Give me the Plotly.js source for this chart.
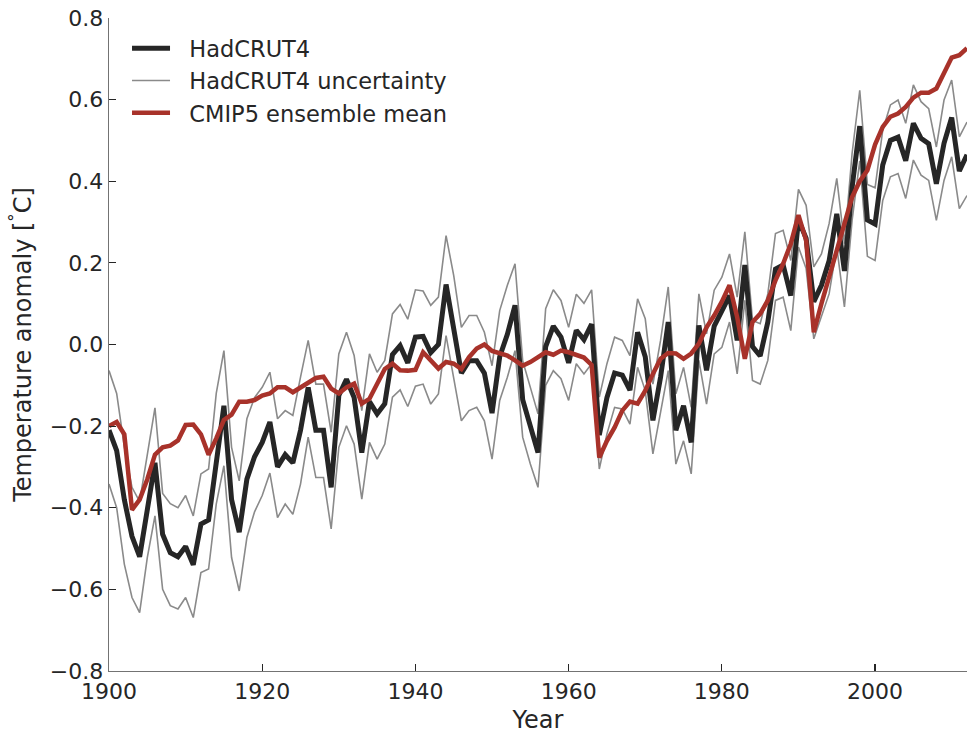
<!DOCTYPE html>
<html>
<head>
<meta charset="utf-8">
<script src="https://cdn.plot.ly/plotly-3.0.1.min.js"></script>
<style>
  html, body { margin: 0; padding: 0; background: #ffffff; }
  #chart { width: 967px; height: 735px; }
</style>
</head>
<body>
<div id="chart"></div>
<script>
// Annual global mean temperature anomalies, 1900–2012 (°C)
const firstYear = 1900;

const hadcrut4 = [
  -0.21, -0.26, -0.38, -0.47, -0.52, -0.40, -0.29, -0.465, -0.51, -0.52,
  -0.495, -0.54, -0.44, -0.43, -0.285, -0.15, -0.38, -0.46, -0.33, -0.275,
  -0.24, -0.19, -0.30, -0.27, -0.29, -0.21, -0.105, -0.21, -0.21, -0.35,
  -0.125, -0.085, -0.13, -0.265, -0.14, -0.17, -0.145, -0.025, -0.003, -0.045,
  0.018, 0.02, -0.02, 0.0, 0.147, 0.035, -0.07, -0.04, -0.04, -0.07,
  -0.168, -0.03, 0.025, 0.096, -0.135, -0.20, -0.265, -0.005, 0.045, 0.018,
  -0.045, 0.035, 0.012, 0.05, -0.222, -0.13, -0.07, -0.075, -0.112, 0.03,
  -0.03, -0.186, -0.08, 0.055, -0.21, -0.15, -0.24, 0.047, -0.063, 0.045,
  0.085, 0.12, 0.01, 0.195, -0.005, -0.028, 0.055, 0.185, 0.195, 0.12,
  0.305, 0.26, 0.105, 0.145, 0.205, 0.32, 0.18, 0.385, 0.535, 0.305,
  0.295, 0.44, 0.50, 0.508, 0.45, 0.542, 0.505, 0.492, 0.394, 0.493,
  0.556, 0.425, 0.465
];

const hadcrut4Upper = [
  -0.064, -0.12, -0.25, -0.35, -0.385, -0.27, -0.155, -0.365, -0.39, -0.40,
  -0.37, -0.42, -0.317, -0.305, -0.12, -0.015, -0.252, -0.334, -0.182, -0.13,
  -0.105, -0.068, -0.182, -0.162, -0.174, -0.08, 0.01, -0.097, -0.097, -0.215,
  -0.023, 0.03, -0.027, -0.162, -0.023, -0.068, -0.039, 0.075, 0.098, 0.062,
  0.134, 0.131, 0.096, 0.116, 0.267, 0.169, 0.042, 0.071, 0.071, 0.03,
  -0.052, 0.083, 0.145, 0.198, -0.04, -0.105, -0.17, 0.088, 0.134, 0.108,
  0.042, 0.123, 0.101, 0.134, -0.129, -0.047, 0.018, 0.01, -0.027, 0.112,
  0.063, -0.097, 0.01, 0.141, -0.121, -0.056, -0.154, 0.124, 0.026, 0.133,
  0.165, 0.222, 0.116, 0.276, 0.059, 0.051, 0.124, 0.272, 0.28, 0.206,
  0.38, 0.341, 0.19, 0.222, 0.296, 0.407, 0.247, 0.468, 0.623, 0.392,
  0.384, 0.525, 0.587, 0.599, 0.542, 0.636, 0.595, 0.578, 0.484, 0.599,
  0.648, 0.509, 0.545
];

const hadcrut4Lower = [
  -0.342, -0.40, -0.538, -0.62, -0.657, -0.522, -0.42, -0.60, -0.64, -0.648,
  -0.62, -0.669, -0.559, -0.55, -0.391, -0.297, -0.522, -0.604, -0.473, -0.41,
  -0.37, -0.315, -0.424, -0.391, -0.416, -0.342, -0.227, -0.326, -0.326, -0.452,
  -0.252, -0.199, -0.244, -0.379, -0.24, -0.281, -0.244, -0.129, -0.111, -0.152,
  -0.102, -0.097, -0.146, -0.121, 0.022, -0.08, -0.187, -0.162, -0.154, -0.187,
  -0.281, -0.137, -0.08, -0.015, -0.227, -0.293, -0.35, -0.10, -0.064, -0.084,
  -0.137, -0.047, -0.072, -0.047, -0.305, -0.219, -0.154, -0.158, -0.195, -0.056,
  -0.113, -0.268, -0.17, -0.064, -0.293, -0.236, -0.317, -0.039, -0.146, -0.023,
  -0.007, 0.055, -0.072, 0.108, -0.088, -0.097, -0.039, 0.108, 0.116, 0.034,
  0.239, 0.186, 0.014, 0.067, 0.124, 0.239, 0.092, 0.304, 0.45, 0.216,
  0.206, 0.353, 0.411, 0.419, 0.358, 0.452, 0.415, 0.402, 0.304, 0.402,
  0.46, 0.333, 0.365
];

const cmip5Mean = [
  -0.20, -0.19, -0.22, -0.405, -0.38, -0.33, -0.27, -0.252, -0.248, -0.235,
  -0.197, -0.196, -0.22, -0.27, -0.23, -0.185, -0.172, -0.14, -0.14, -0.136,
  -0.125, -0.12, -0.105, -0.105, -0.117, -0.105, -0.092, -0.082, -0.079, -0.108,
  -0.12, -0.105, -0.096, -0.145, -0.133, -0.096, -0.06, -0.047, -0.063, -0.064,
  -0.062, -0.019, -0.039, -0.059, -0.043, -0.047, -0.06, -0.031, -0.01, 0.0,
  -0.016, -0.021, -0.027, -0.039, -0.052, -0.043, -0.031, -0.019, -0.025, -0.015,
  -0.019, -0.025, -0.032, -0.05, -0.277, -0.236, -0.203, -0.162, -0.14, -0.145,
  -0.113, -0.072, -0.035, -0.021, -0.022, -0.035, -0.022, 0.002, 0.042, 0.071,
  0.105, 0.145, 0.067, -0.035, 0.055, 0.075, 0.108, 0.157, 0.198, 0.247,
  0.317, 0.255, 0.03, 0.10, 0.165, 0.239, 0.304, 0.361, 0.40, 0.427,
  0.49, 0.533, 0.558, 0.566, 0.582, 0.605, 0.617, 0.617, 0.627, 0.664,
  0.703, 0.709, 0.726
];

const years = hadcrut4.map((_, i) => firstYear + i);

const yTicks = [-0.8, -0.6, -0.4, -0.2, 0.0, 0.2, 0.4, 0.6, 0.8];
const yTickText = yTicks.map(v => v.toFixed(1).replace('-', '\u2212'));
const xTicks = [1900, 1920, 1940, 1960, 1980, 2000];

const seriesNames = ['HadCRUT4', 'HadCRUT4 uncertainty', 'CMIP5 ensemble mean'];

const textColor = '#262626';
const spineColor = '#737373';
const font = 'DejaVu Sans, Liberation Sans, sans-serif';

// a little breathing room between each legend swatch and its label
const gap = '\u00a0\u00a0';

const traces = [
  {
    x: years, y: hadcrut4Lower, type: 'scatter', mode: 'lines',
    name: gap + seriesNames[1], showlegend: false, legendgroup: 'unc',
    line: { color: '#8a8a8a', width: 1.6 }, hoverinfo: 'skip'
  },
  {
    x: years, y: hadcrut4Upper, type: 'scatter', mode: 'lines',
    name: gap + seriesNames[1], legendgroup: 'unc', legendrank: 2,
    line: { color: '#8a8a8a', width: 1.6 }
  },
  {
    x: years, y: hadcrut4, type: 'scatter', mode: 'lines',
    name: gap + seriesNames[0], legendrank: 1,
    line: { color: '#262626', width: 5 }
  },
  {
    x: years, y: cmip5Mean, type: 'scatter', mode: 'lines',
    name: gap + seriesNames[2], legendrank: 3,
    line: { color: '#a8322a', width: 4.5 }
  }
];

const layout = {
  width: 967,
  height: 735,
  paper_bgcolor: '#ffffff',
  plot_bgcolor: '#ffffff',
  margin: { l: 109, r: 0, t: 18, b: 64, pad: 0 },
  font: { family: font, size: 22, color: textColor },
  showlegend: true,
  legend: {
    x: 0.021, y: 0.986, xanchor: 'left', yanchor: 'top',
    bgcolor: 'rgba(0,0,0,0)', borderwidth: 0,
    font: { family: font, size: 22.5, color: textColor },
    traceorder: 'normal', itemwidth: 38, tracegroupgap: 0
  },
  xaxis: {
    range: [1900, 2012],
    tickvals: xTicks,
    ticktext: xTicks.map(String),
    ticks: 'inside', ticklen: 7, tickwidth: 1.2, tickcolor: textColor,
    showline: true, linecolor: spineColor, linewidth: 1.4,
    showgrid: false, zeroline: false,
    tickfont: { family: font, size: 22, color: textColor },
    title: { text: 'Year', font: { family: font, size: 24, color: textColor }, standoff: 8 },
    automargin: false
  },
  yaxis: {
    range: [-0.8, 0.8],
    tickvals: yTicks,
    ticktext: yTickText,
    ticks: 'inside', ticklen: 7, tickwidth: 1.2, tickcolor: textColor,
    showline: true, linecolor: spineColor, linewidth: 1.4,
    showgrid: false, zeroline: false,
    tickfont: { family: font, size: 22, color: textColor },
    title: { text: 'Temperature anomaly [<sup>°</sup>C]', font: { family: font, size: 24, color: textColor }, standoff: 11 },
    automargin: false
  }
};

Plotly.newPlot('chart', traces, layout, { displayModeBar: false, staticPlot: true });
</script>
</body>
</html>
